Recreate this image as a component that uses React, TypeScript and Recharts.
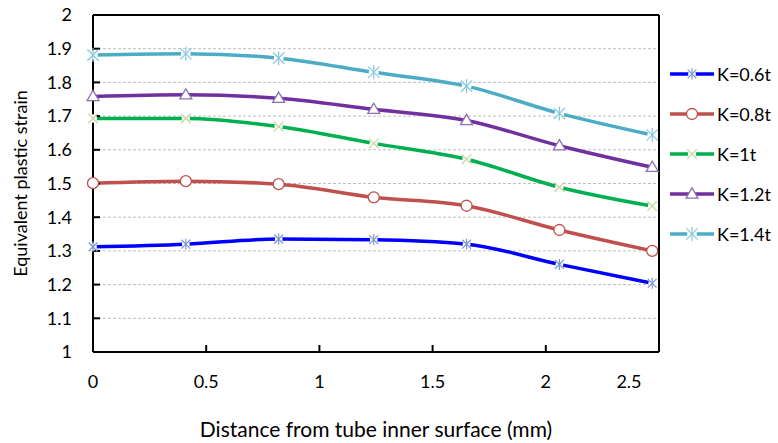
import React from 'react';
import { LineChart, Line, XAxis, YAxis, CartesianGrid, ReferenceLine, Legend } from 'recharts';

const xValues = [0, 0.41, 0.82, 1.24, 1.65, 2.06, 2.47];
const k06 = [1.312, 1.32, 1.335, 1.333, 1.32, 1.26, 1.204];
const k08 = [1.501, 1.507, 1.498, 1.459, 1.434, 1.362, 1.3];
const k10 = [1.693, 1.693, 1.669, 1.619, 1.572, 1.489, 1.433];
const k12 = [1.758, 1.763, 1.753, 1.72, 1.687, 1.612, 1.548];
const k14 = [1.881, 1.885, 1.872, 1.83, 1.789, 1.708, 1.644];
const seriesNames = ['K=0.6t', 'K=0.8t', 'K=1t', 'K=1.2t', 'K=1.4t'];
const xTicks = [0, 0.5, 1, 1.5, 2, 2.5];
const yTicks = [1, 1.1, 1.2, 1.3, 1.4, 1.5, 1.6, 1.7, 1.8, 1.9, 2];

const data = xValues.map((x, i) => ({ x, s0: k06[i], s1: k08[i], s2: k10[i], s3: k12[i], s4: k14[i] }));

const FONT = 'Lato, "Open Sans", sans-serif';

type Style = { line: string; marker: string; shape: 'star' | 'circle' | 'x' | 'triangle'; size: number };
const styles: Style[] = [
  { line: '#0000FF', marker: '#7896D8', shape: 'star', size: 5.5 },
  { line: '#C0504D', marker: '#C0504D', shape: 'circle', size: 5.5 },
  { line: '#00B050', marker: '#C3D69B', shape: 'x', size: 6 },
  { line: '#7030A0', marker: '#8E72B0', shape: 'triangle', size: 6 },
  { line: '#4BACC6', marker: '#86C8DC', shape: 'star', size: 7 },
];

function Marker({ cx, cy, st }: { cx: number; cy: number; st: Style }) {
  const r = st.size;
  if (st.shape === 'circle') {
    return <circle cx={cx} cy={cy} r={r} fill="#fff" stroke={st.marker} strokeWidth={1.3} />;
  }
  if (st.shape === 'triangle') {
    const h = r * 1.7;
    return (
      <polygon
        points={`${cx},${cy - h * 0.6} ${cx + r},${cy + h * 0.4} ${cx - r},${cy + h * 0.4}`}
        fill="#fff"
        stroke={st.marker}
        strokeWidth={1.3}
      />
    );
  }
  const d = r * 0.8;
  return (
    <g>
      <circle cx={cx} cy={cy} r={r * 0.7} fill="#fff" />
      <line x1={cx - d} y1={cy - d} x2={cx + d} y2={cy + d} stroke={st.marker} strokeWidth={1.2} />
      <line x1={cx - d} y1={cy + d} x2={cx + d} y2={cy - d} stroke={st.marker} strokeWidth={1.2} />
      {st.shape === 'star' && (
        <line x1={cx} y1={cy - r} x2={cx} y2={cy + r} stroke={st.marker} strokeWidth={1.2} />
      )}
    </g>
  );
}

const makeDot = (st: Style) => (props: any) => {
  const { cx, cy, index } = props;
  if (cx == null || cy == null) return <g key={`d-${index}`} />;
  return (
    <g key={`d-${index}`}>
      <Marker cx={cx} cy={cy} st={st} />
    </g>
  );
};

const renderLegend = () => (
  <div style={{ fontFamily: FONT }}>
    {seriesNames.map((name, i) => (
      <div key={name} style={{ display: 'flex', alignItems: 'center', height: 40 }}>
        <svg width={48} height={18} style={{ display: 'block' }}>
          <line x1={2} y1={9} x2={46} y2={9} stroke={styles[i].line} strokeWidth={3.5} />
          <Marker cx={24} cy={9} st={styles[i]} />
        </svg>
        <span style={{ fontSize: 18, color: '#000', marginLeft: 1 }}>{name}</span>
      </div>
    ))}
  </div>
);

const XTick = (props: any) => {
  const { x, y, payload } = props;
  const shift = payload.value === 2.5 ? -30 : 0;
  return (
    <text x={x + shift} y={y} dy="0.71em" textAnchor="middle" fontSize={18} fontFamily={FONT} fill="#000">
      {payload.value}
    </text>
  );
};

export default function App() {
  return (
    <div style={{ position: 'absolute', left: 0, top: 0, width: 778, height: 443, background: '#fff' }}>
      <LineChart width={778} height={443} data={data} margin={{ top: 15, right: 119, bottom: 31, left: 33 }}>
        <CartesianGrid vertical={false} stroke="#BFBFBF" strokeDasharray="3 2" strokeWidth={1} />
        <XAxis
          dataKey="x"
          type="number"
          domain={[0, 2.5]}
          ticks={xTicks}
          height={60}
          axisLine={{ stroke: '#000', strokeWidth: 2 }}
          tickLine={{ stroke: '#000', strokeWidth: 2 }}
          tickSize={-7}
          tickMargin={30}
          tick={<XTick />}
          label={{ value: 'Distance from tube inner surface (mm)', position: 'center', dy: 48, fontSize: 21, fontFamily: FONT, fill: '#000' }}
        />
        <YAxis
          type="number"
          domain={[1, 2]}
          ticks={yTicks}
          width={60}
          axisLine={{ stroke: '#000', strokeWidth: 2 }}
          tickLine={{ stroke: '#000', strokeWidth: 2 }}
          tickSize={-7}
          tickMargin={28}
          tick={{ fontSize: 18, fontFamily: FONT, fill: '#000' }}
          label={{ value: 'Equivalent plastic strain', angle: -90, position: 'center', dx: -42, fontSize: 18, fontFamily: FONT, fill: '#000' }}
        />
        <ReferenceLine y={2} stroke="#000" strokeWidth={2} />
        <ReferenceLine x={2.5} stroke="#000" strokeWidth={2} />
        <Legend
          layout="vertical"
          align="center"
          verticalAlign="middle"
          content={renderLegend}
          wrapperStyle={{ left: 668, top: 54, width: 110 }}
        />
        {styles.map((st, i) => (
          <Line
            key={i}
            dataKey={`s${i}`}
            name={seriesNames[i]}
            type="monotone"
            stroke={st.line}
            strokeWidth={3.5}
            dot={makeDot(st)}
            activeDot={false}
            isAnimationActive={false}
          />
        ))}
      </LineChart>
    </div>
  );
}
